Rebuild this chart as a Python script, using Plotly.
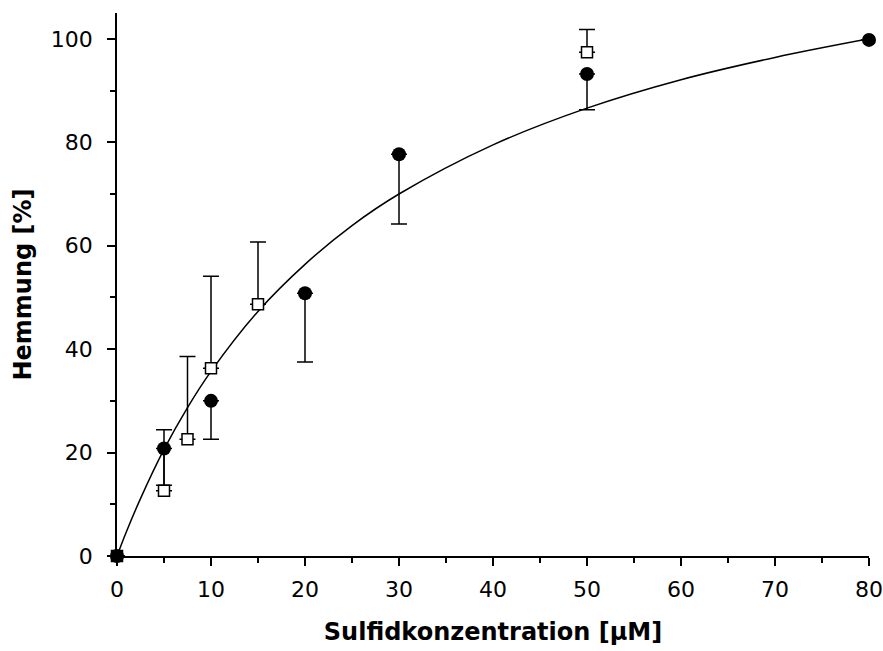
import plotly.graph_objects as go

# Measured inhibition (%) vs. sulfide concentration (µM)
conc_a = [0, 5, 10, 20, 30, 50, 80]
hemm_a = [0, 20.8, 30.0, 50.8, 77.7, 93.2, 99.8]
err_a_minus = [0, 7.1, 7.4, 13.3, 13.5, 6.9, 0]

conc_b = [0, 5, 7.5, 10, 15, 50]
hemm_b = [0, 12.6, 22.6, 36.3, 48.7, 97.4]
err_b_plus = [0, 11.8, 16.0, 17.8, 12.0, 4.4]

# Saturation fit curve, read at selected concentrations
fit_x = [0, 1, 2.5, 5, 7.5, 10, 15, 20, 25, 30, 40, 50, 60, 70, 80]
fit_y = [0, 4.7, 11.1, 20.6, 28.7, 35.7, 47.3, 56.4, 63.9, 70.0, 79.5, 86.6, 92.1, 96.4, 100.0]

x_ticks = [0, 10, 20, 30, 40, 50, 60, 70, 80]
y_ticks = [0, 20, 40, 60, 80, 100]

FONT = "DejaVu Sans"

fig = go.Figure()

fig.add_trace(go.Scatter(
    x=fit_x, y=fit_y, mode="lines", line=dict(color="black", width=1.5, shape="spline"),
    hoverinfo="skip", showlegend=False,
))

fig.add_trace(go.Scatter(
    x=conc_b, y=hemm_b, mode="markers",
    marker=dict(symbol="square", size=11, color="white", line=dict(color="black", width=1.5)),
    error_y=dict(type="data", symmetric=False, array=err_b_plus,
                 arrayminus=[0] * len(err_b_plus), color="black", thickness=1.5, width=8),
    cliponaxis=False, showlegend=False,
))

fig.add_trace(go.Scatter(
    x=conc_a, y=hemm_a, mode="markers",
    marker=dict(symbol="circle", size=14, color="black", line=dict(color="black", width=0)),
    error_y=dict(type="data", symmetric=False, array=[0] * len(err_a_minus),
                 arrayminus=err_a_minus, color="black", thickness=1.5, width=8),
    cliponaxis=False, showlegend=False,
))

fig.update_layout(
    width=883, height=651,
    margin=dict(l=117, r=14, t=13, b=95, autoexpand=False),
    paper_bgcolor="white", plot_bgcolor="white",
    font=dict(family=FONT, color="black", size=22),
    xaxis=dict(
        range=[0, 80], tickvals=x_ticks, ticktext=[str(v) for v in x_ticks],
        automargin=False,
        showgrid=False, zeroline=False, showline=True, linecolor="black", linewidth=1.5,
        ticks="outside", ticklen=8, tickwidth=1.5, tickcolor="black",
        minor=dict(dtick=5, ticks="outside", ticklen=5, tickwidth=1.5, tickcolor="black"),
        tickfont=dict(family=FONT, size=22), ticklabelstandoff=5,
        title=dict(text="<b>Sulfidkonzentration [µM]</b>", font=dict(family=FONT, size=24), standoff=22),
    ),
    yaxis=dict(
        range=[0, 105], tickvals=y_ticks, ticktext=[str(v) for v in y_ticks],
        automargin=False,
        showgrid=False, zeroline=False, showline=True, linecolor="black", linewidth=1.5,
        ticks="outside", ticklen=8, tickwidth=1.5, tickcolor="black",
        minor=dict(dtick=10, ticks="outside", ticklen=5, tickwidth=1.5, tickcolor="black"),
        tickfont=dict(family=FONT, size=22), ticklabelstandoff=10,
        title=dict(text="<b>Hemmung [%]</b>", font=dict(family=FONT, size=24), standoff=12),
    ),
)

fig.write_html("out.html")
